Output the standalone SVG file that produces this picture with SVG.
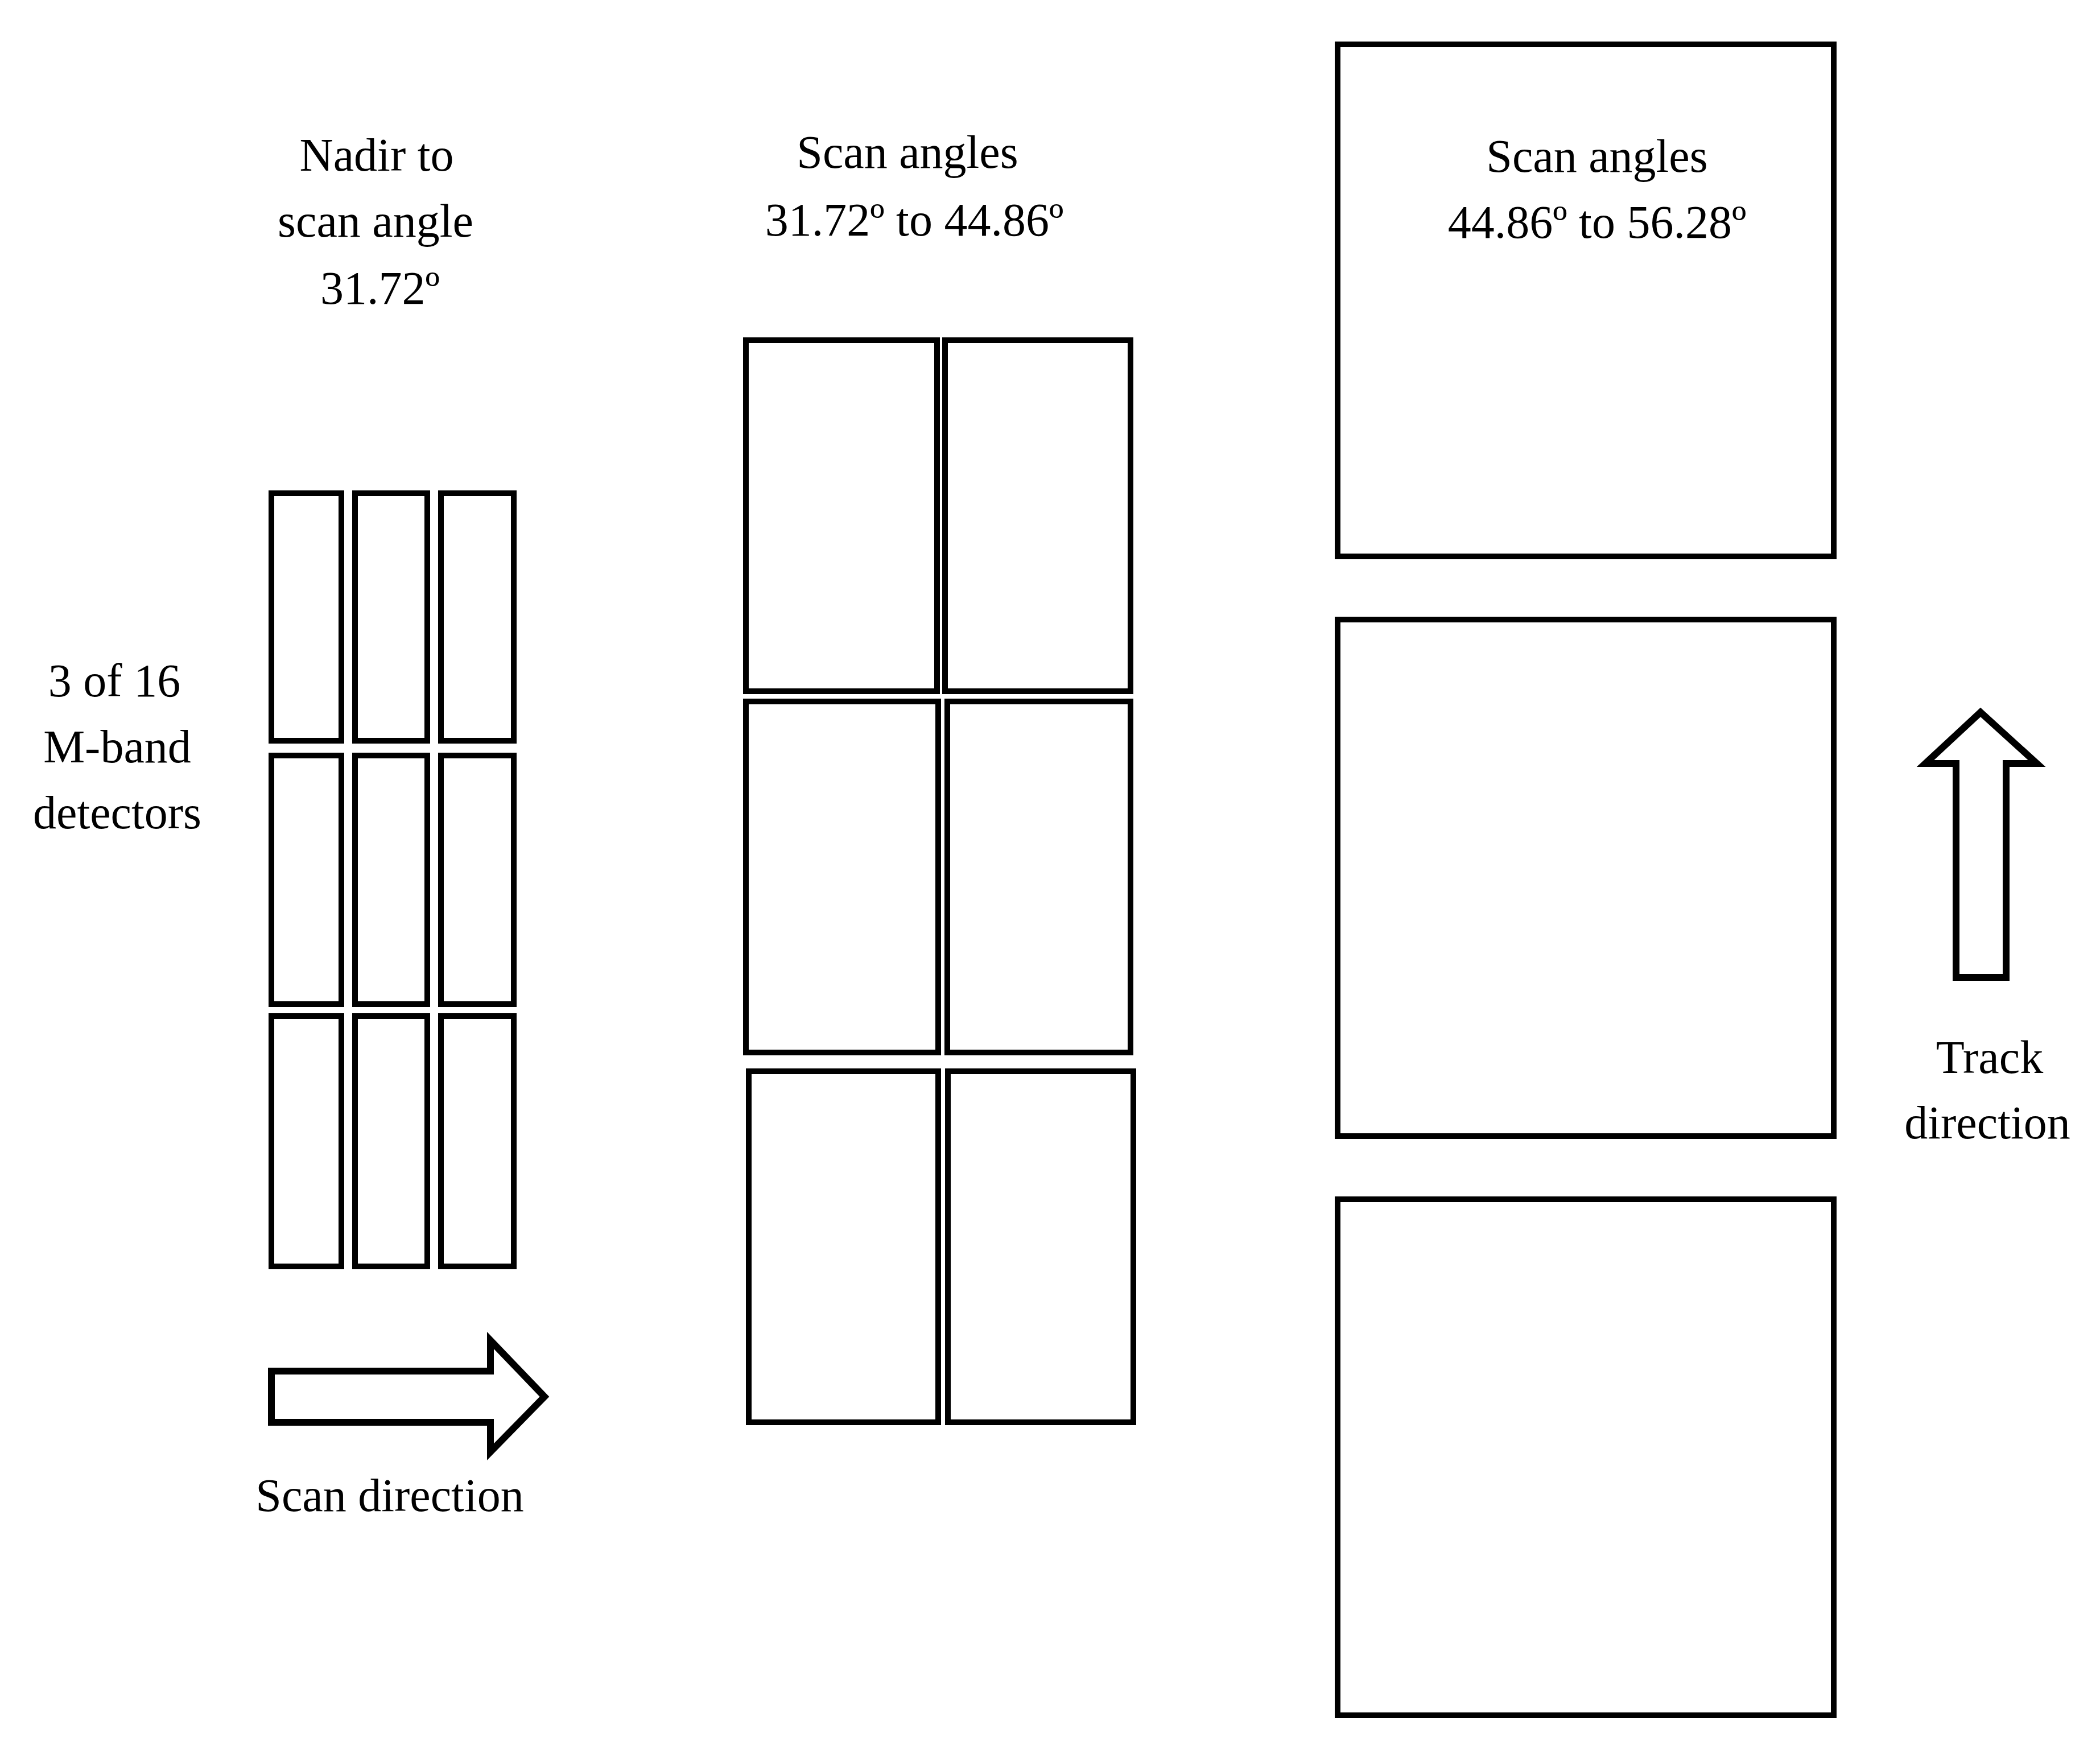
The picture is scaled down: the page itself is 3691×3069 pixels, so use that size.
<svg xmlns="http://www.w3.org/2000/svg" width="3691" height="3069" viewBox="0 0 3691 3069">
<style>
.b{fill:none;stroke:#000;stroke-width:10}
.a{fill:#fff;stroke:#000;stroke-width:12;stroke-linejoin:miter}
text{font-family:"Liberation Serif",serif;font-size:82px;fill:#000;text-anchor:middle}
</style>
<rect width="3691" height="3069" fill="#fff"/>
<g id="left">
<rect class="b" x="477" y="867" width="123" height="435"/><rect class="b" x="624" y="867" width="127" height="435"/><rect class="b" x="775" y="867" width="128" height="435"/>
<rect class="b" x="477" y="1328" width="123" height="437"/><rect class="b" x="624" y="1328" width="127" height="437"/><rect class="b" x="775" y="1328" width="128" height="437"/>
<rect class="b" x="477" y="1786" width="123" height="440"/><rect class="b" x="624" y="1786" width="127" height="440"/><rect class="b" x="775" y="1786" width="128" height="440"/>
</g>
<g id="middle">
<rect class="b" x="1311" y="598" width="336" height="617"/><rect class="b" x="1661" y="598" width="326" height="617"/>
<rect class="b" x="1311" y="1233" width="338" height="617"/><rect class="b" x="1665" y="1233" width="322" height="617"/>
<rect class="b" x="1316" y="1883" width="333" height="617"/><rect class="b" x="1666" y="1883" width="326" height="617"/>
</g>
<g id="right">
<rect class="b" x="2351" y="78" width="872" height="900"/>
<rect class="b" x="2351" y="1089" width="872" height="908"/>
<rect class="b" x="2351" y="2108" width="872" height="907"/>
</g>
<g id="arrows">
<polygon class="a" points="477,2410 862,2410 862,2356 957,2455 862,2552 862,2500 477,2500"/>
<polygon class="a" points="3481,1252 3580,1342 3526,1342 3526,1718 3438,1718 3438,1342 3384,1342"/>
</g>
<g id="labels">
<text x="662" y="300">Nadir to</text><text x="660" y="416">scan angle</text><text x="668" y="534">31.72º</text>
<text x="1595" y="295">Scan angles</text><text x="1607" y="414">31.72º to 44.86º</text>
<text x="2807" y="302">Scan angles</text><text x="2807" y="418">44.86º to 56.28º</text>
<text x="201" y="1224">3 of 16</text><text x="206" y="1340">M-band</text><text x="206" y="1456">detectors</text>
<text x="685" y="2656">Scan direction</text>
<text x="3497" y="1886">Track</text><text x="3493" y="2001">direction</text>
</g>
</svg>
